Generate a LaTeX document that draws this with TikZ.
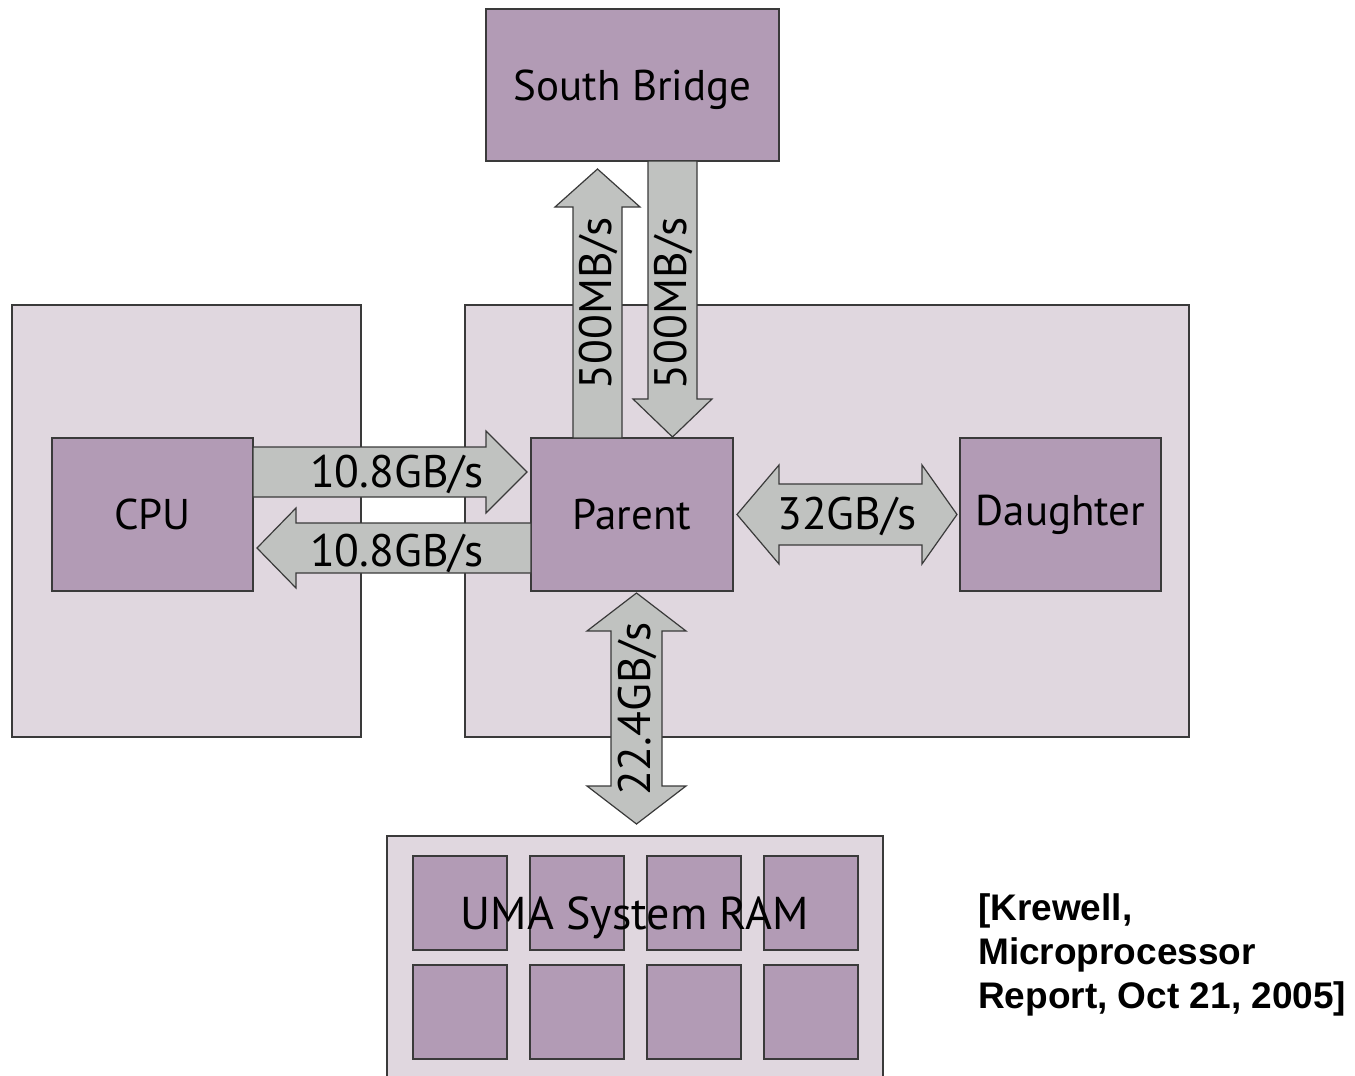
\documentclass[tikz,border=0pt]{standalone}
\usepackage{fontspec}
\setmainfont{PT Sans}
\newfontfamily\citefont{Liberation Sans}
\usetikzlibrary{calc}
\definecolor{darkfill}{HTML}{B29BB5}
\definecolor{lightfill}{HTML}{E0D7DF}
\definecolor{arrowgray}{HTML}{C0C2C0}
\definecolor{edgecol}{HTML}{3A3A3A}
\begin{document}
\begin{tikzpicture}[x=1pt,y=-1pt,
  panel/.style={rectangle, draw=edgecol, line width=1.5pt, fill=lightfill, inner sep=0pt, outer sep=0pt},
  unit/.style={rectangle, draw=edgecol, line width=1.5pt, fill=darkfill, inner sep=0pt, outer sep=0pt,
    font=\fontsize{43}{50}\selectfont},
  unittext/.style={inner sep=0pt, font=\fontsize{43}{50}\selectfont},
  chip/.style={rectangle, draw=edgecol, line width=1.2pt, fill=darkfill, inner sep=0pt, outer sep=0pt,
    minimum width=94, minimum height=94},
  arr/.style={draw=edgecol, line width=1.2pt, fill=arrowgray, line join=miter},
  lbl/.style={inner sep=0pt, font=\fontsize{45.5}{52}\selectfont},
  cite/.style={inner sep=0pt, align=left, anchor=north west, font=\citefont\bfseries\fontsize{37}{44}\selectfont}]
\useasboundingbox (0,0) rectangle (1355,1076);
\clip (0,0) rectangle (1355,1076);
% panels
\node[panel, minimum width=349, minimum height=432] (lpanel) at (186.5,521) {};
\node[panel, minimum width=724, minimum height=432] (rpanel) at (827,521) {};
% units
\node[unit, minimum width=293, minimum height=152] (sb) at (632.5,85) {};
\node[unittext] (sbtext) at ($(sb.center)+(0,5)$) {South Bridge};
\node[unit, minimum width=201, minimum height=153] (cpu) at (152.5,514.5) {CPU};
\node[unit, minimum width=202, minimum height=153] (parent) at (632,514.5) {Parent};
\node[unit, minimum width=201, minimum height=153] (daughter) at (1060.5,514.5) {Daughter};
% RAM
\node[panel, minimum width=496, minimum height=254] (ram) at (635,963) {};
\foreach \i/\cx in {1/460,2/577,3/694,4/811}{
  \node[chip] (chipa\i) at (\cx,903) {};
  \node[chip] (chipb\i) at (\cx,1012) {};
}
\node[lbl, font=\fontsize{46}{52}\selectfont] (ramlbl) at (635,918) {UMA System RAM};
% CPU -> Parent
\draw[arr] (cpu.east |- 0,447) -- (486,447) -- (486,431) -- (527,472) -- (486,513) -- (486,497) -- (cpu.east |- 0,497) -- cycle;
% Parent -> CPU
\draw[arr] (parent.west |- 0,523) -- (296,523) -- (296,508) -- (257,548) -- (296,588) -- (296,573) -- (parent.west |- 0,573) -- cycle;
% Parent -> South Bridge
\draw[arr] (parent.north -| 573,0) -- (573,207) -- (555,207) -- (597.5,169) -- (640,207) -- (622,207) -- (parent.north -| 622,0) -- cycle;
% South Bridge -> Parent
\draw[arr] (sb.south -| 648,0) -- (648,399) -- (633,399) -- (672.5,437) -- (712,399) -- (697,399) -- (sb.south -| 697,0) -- cycle;
% Parent <-> Daughter
\draw[arr] (737,514.5) -- (779,465) -- (779,484) -- (922,484) -- (922,465) -- (957,514.5) -- (922,564) -- (922,545) -- (779,545) -- (779,564) -- cycle;
% Parent <-> RAM
\draw[arr] (636.5,593) -- (686,631) -- (662,631) -- (662,786) -- (686,786) -- (636.5,824) -- (587,786) -- (611,786) -- (611,631) -- (587,631) -- cycle;
% labels
\node[lbl] (l1) at (397,474) {10.8GB/s};
\node[lbl] (l2) at (397,553) {10.8GB/s};
\node[lbl, rotate=90] (l3) at (598,303) {500MB/s};
\node[lbl, rotate=90] (l4) at (673,303) {500MB/s};
\node[lbl] (l5) at (847,516) {32GB/s};
\node[lbl, rotate=90] (l6) at (637,709) {22.4GB/s};
% citation
\node[cite] (cite) at (978,893) {[Krewell,\\Microprocessor\\Report, Oct 21, 2005]};
\end{tikzpicture}
\end{document}
